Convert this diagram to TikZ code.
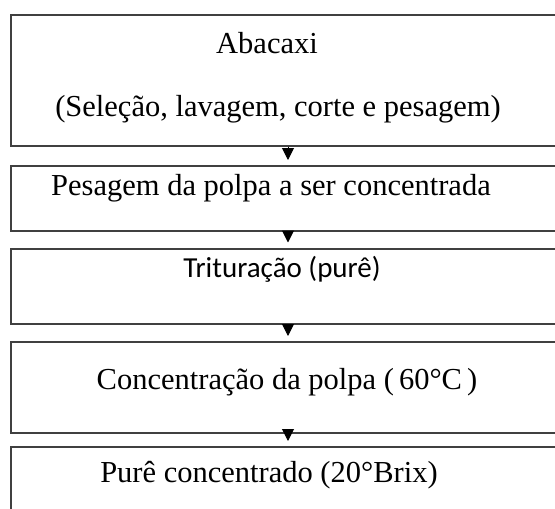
\documentclass[tikz,border=0pt]{standalone}
\usepackage{fontspec}
\setmainfont{Liberation Serif}
\newfontfamily\calibrifont{Carlito}
\usetikzlibrary{arrows.meta}
\begin{document}
\begin{tikzpicture}[x=1pt,y=-1pt,>={Triangle[length=12pt,width=12pt]},
  stepbox/.style={draw=black!75,line width=2pt,minimum width=560pt,anchor=north west,inner sep=0pt},
  steptext/.style={font=\fontsize{30.5}{36}\selectfont,anchor=base,inner sep=0pt},
  flow/.style={->,line width=1pt,shorten >=5pt}]
  \useasboundingbox (0,0) rectangle (555,509);
  \clip (0,0) rectangle (555,509);
  \coordinate (axis) at (288,0);
  \node[stepbox,minimum height=131pt] (abacaxi) at (9.5,13.5) {};
  \node[stepbox,minimum height=65pt] (pesagem) at (9.5,165) {};
  \node[stepbox,minimum height=75pt] (trituracao) at (9.5,247.5) {};
  \node[stepbox,minimum height=91pt] (concentracao) at (9.5,341) {};
  \node[stepbox,minimum height=90pt] (pure) at (9.5,446) {};
  \node[steptext] (abacaxiA) at (267,53) {Abacaxi};
  \node[steptext] (abacaxiB) at (278,116) {(Seleção, lavagem,\ corte e pesagem)};
  \node[steptext] (pesagemA) at (271,195) {Pesagem da polpa a ser concentrada};
  \node[steptext,font=\calibrifont\fontsize{29}{34}\selectfont] (trituracaoA) at (282,277) {Trituração (purê)};
  \node[steptext] (concentracaoA) at (287,389) {Concentração da polpa (\,60°C\,)};
  \node[steptext] (pureA) at (269,482) {Purê concentrado (20°Brix)};
  \draw[flow] (abacaxi.south -| axis) -- (pesagem.north -| axis);
  \draw[flow] (pesagem.south -| axis) -- (trituracao.north -| axis);
  \draw[flow] (trituracao.south -| axis) -- (concentracao.north -| axis);
  \draw[flow] (concentracao.south -| axis) -- (pure.north -| axis);
\end{tikzpicture}
\end{document}
